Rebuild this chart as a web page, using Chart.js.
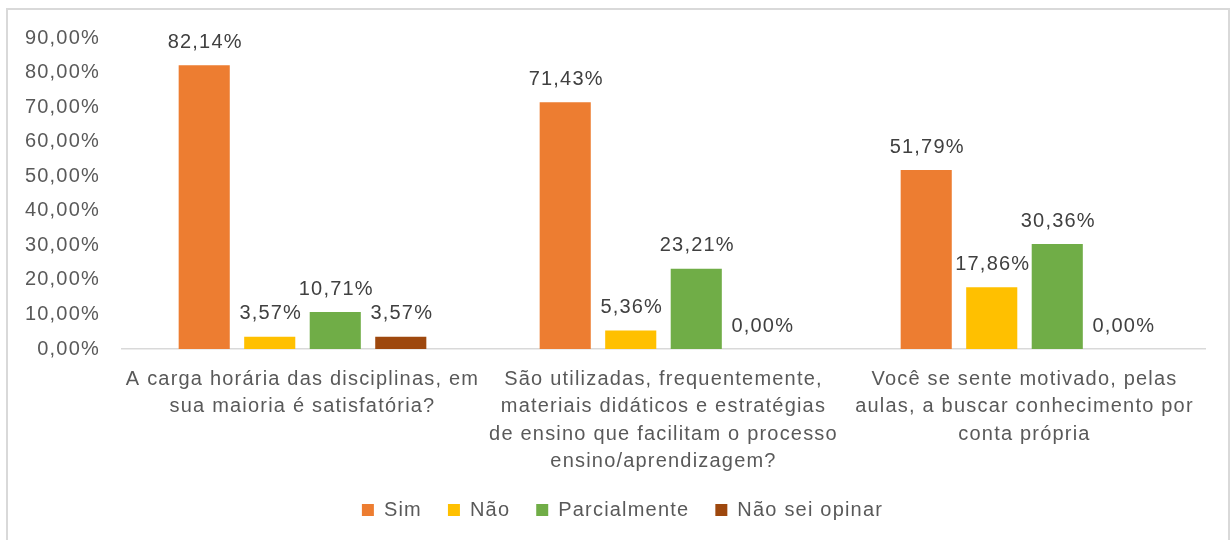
<!DOCTYPE html>
<html>
<head>
<meta charset="utf-8">
<script src="https://cdn.jsdelivr.net/npm/chart.js@4"></script>
<style>
  html, body { margin: 0; padding: 0; background: #fff; }
  #wrap { width: 1231px; height: 540px; position: relative; }
</style>
</head>
<body>
<div id="wrap"><canvas id="grafico"></canvas></div>
<script>
// Perguntas (categorias do eixo x, já quebradas em linhas)
const categorias = [
    ['A carga horária das disciplinas, em', 'sua maioria é satisfatória?'],
    ['São utilizadas, frequentemente,', 'materiais didáticos e estratégias', 'de ensino que facilitam o processo', 'ensino/aprendizagem?'],
    ['Você se sente motivado, pelas', 'aulas, a buscar conhecimento por', 'conta própria']
];

// Respostas em %
const sim = [82.14, 71.43, 51.79];
const nao = [3.57, 5.36, 17.86];
const parcialmente = [10.71, 23.21, 30.36];
const naoSeiOpinar = [3.57, 0.00, 0.00];

const ticksY = [0, 10, 20, 30, 40, 50, 60, 70, 80, 90];

const fmt = v => v.toFixed(2).replace('.', ',') + '%';
const fonte = { family: "'Liberation Sans', Arial, sans-serif", size: 20 };
const ESPACO = '1.2px';

// espaçamento entre letras + moldura
const espacamento = {
    id: 'espacamento',
    beforeLayout(chart) { chart.ctx.letterSpacing = ESPACO; },
    afterLayout(chart) {
        // centraliza a legenda sob a área do gráfico
        if (chart.legend) chart.legend.left += 40;
    },
    beforeDraw(chart) {
        const ctx = chart.ctx;
        ctx.letterSpacing = ESPACO;
        ctx.save();
        ctx.strokeStyle = '#d9d9d9';
        ctx.lineWidth = 2;
        ctx.strokeRect(7, 9, 1222, 600);
        ctx.restore();
    }
};

// rótulos de dados acima das barras
const rotulos = {
    id: 'rotulos',
    afterDatasetsDraw(chart) {
        const ctx = chart.ctx;
        ctx.save();
        ctx.font = `${fonte.size}px ${fonte.family}`;
        ctx.fillStyle = '#404040';
        ctx.textAlign = 'center';
        ctx.textBaseline = 'middle';
        chart.data.datasets.forEach((ds, i) => {
            chart.getDatasetMeta(i).data.forEach((bar, j) => {
                ctx.fillText(fmt(ds.data[j]), bar.x + 1, bar.y - 23);
            });
        });
        ctx.restore();
    }
};

const ctx = document.getElementById('grafico').getContext('2d');
const grafico = new Chart(ctx, {
    type: 'bar',
    data: {
        labels: categorias,
        datasets: [
            { label: 'Sim', data: sim, backgroundColor: '#ED7D31' },
            { label: 'Não', data: nao, backgroundColor: '#FFC000' },
            { label: 'Parcialmente', data: parcialmente, backgroundColor: '#70AD47' },
            { label: 'Não sei opinar', data: naoSeiOpinar, backgroundColor: '#9E480E' }
        ]
    },
    options: {
        responsive: true,
        maintainAspectRatio: false,
        animation: false,
        categoryPercentage: 0.726,
        barPercentage: 0.78,
        layout: { padding: { left: 0, right: 26, top: 38, bottom: 10 } },
        plugins: {
            legend: {
                position: 'bottom',
                labels: {
                    font: fonte,
                    color: '#595959',
                    boxWidth: 12,
                    boxHeight: 12,
                    padding: 26
                }
            },
            tooltip: { enabled: false }
        },
        scales: {
            x: {
                grid: { display: false },
                border: { display: true, color: '#d9d9d9', width: 1.5 },
                ticks: {
                    font: { ...fonte, lineHeight: 1.36 },
                    color: '#595959',
                    maxRotation: 0,
                    autoSkip: false,
                    padding: 9
                },
                afterFit(scale) { scale.height = 125; }
            },
            y: {
                min: 0,
                max: 90,
                grid: { display: false },
                border: { display: false },
                afterBuildTicks(scale) { scale.ticks = ticksY.map(v => ({ value: v })); },
                ticks: {
                    font: fonte,
                    color: '#595959',
                    padding: 14,
                    callback: v => fmt(v)
                },
                afterFit(scale) { scale.width = 122; }
            }
        }
    },
    plugins: [espacamento, rotulos]
});
</script>
</body>
</html>
